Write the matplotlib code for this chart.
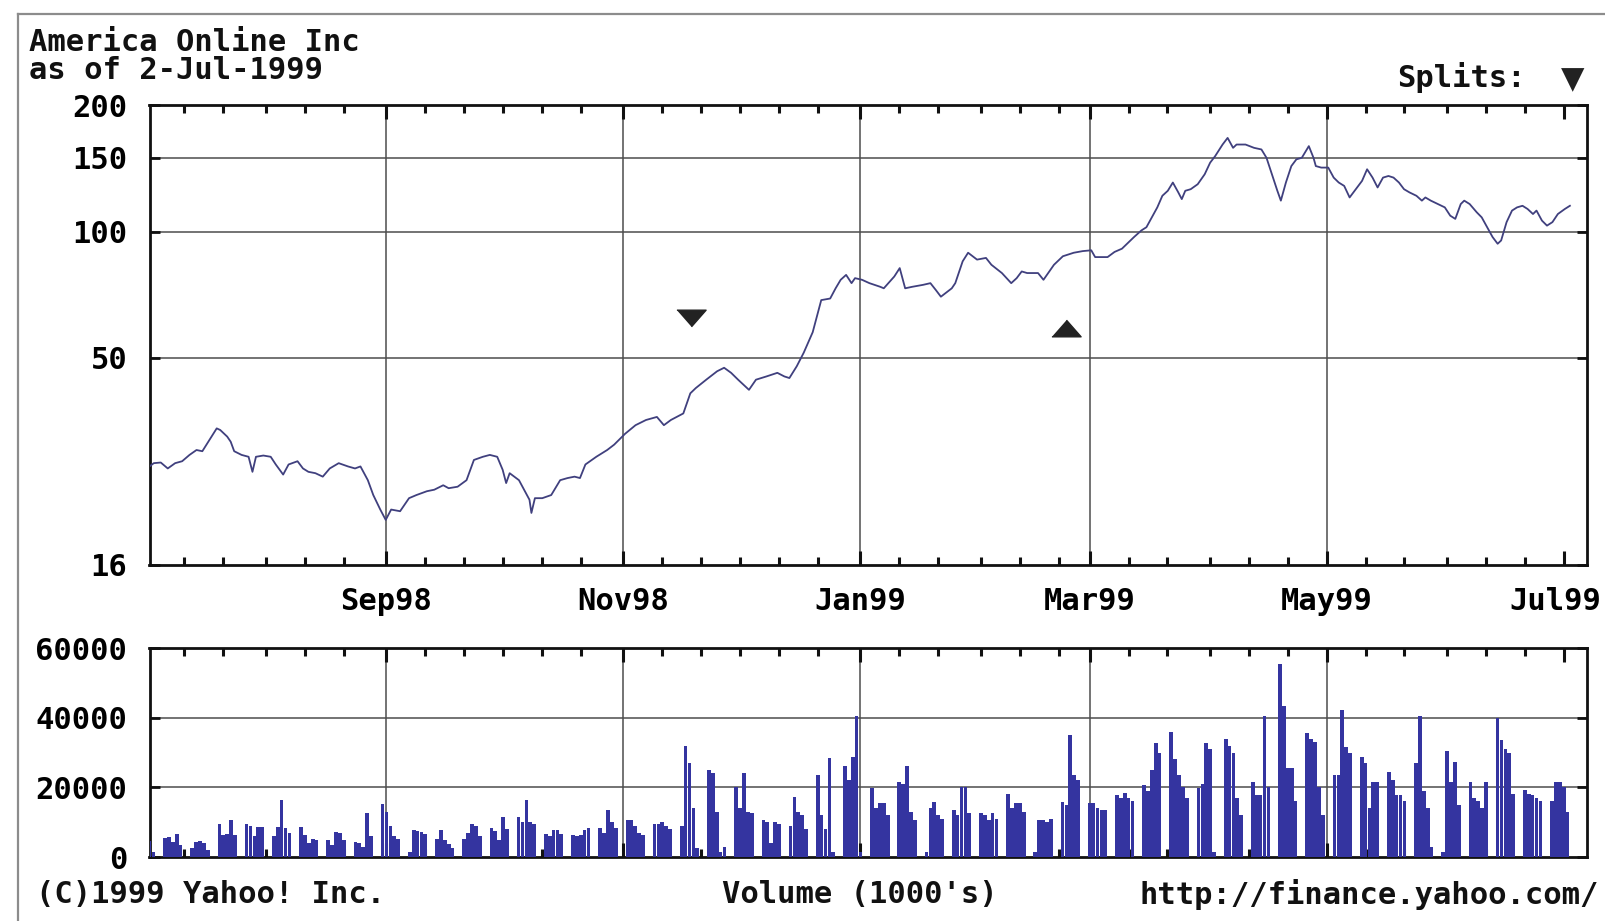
import numpy as np
import pandas as pd
import matplotlib
matplotlib.use("Agg")
import matplotlib.pyplot as plt
import matplotlib.dates as mdates
import matplotlib.ticker as mticker
import matplotlib.transforms as mtransforms
from matplotlib.lines import Line2D

plt.rcParams['font.family'] = ['DejaVu Sans Mono', 'DejaVu Sans']
plt.rcParams['font.weight'] = 'bold'

# ---------------- data ----------------
start_date = "1998-07-02"
end_date = "1999-07-02"

# price trace: day offset from start_date, closing price (split adjusted)
price_day = [0, 1.1, 2.9, 4.7, 6.6, 8.4, 10.3, 12.1, 13.6, 15.4, 17.3, 18.2, 20.0, 20.9, 21.8,
             23.7, 25.5, 26.5, 27.4, 29.3, 31.2, 32.5, 34.4, 35.8, 38.1, 39.5, 40.9, 42.7, 44.6,
             46.4, 48.7, 51.1, 52.9, 54.3, 56.2, 57.6, 59.4, 60.8, 62.2, 64.5, 66.8, 68.7, 71.4,
             73.3, 75.6, 77.0, 79.3, 81.6, 83.5, 85.8, 87.6, 89.5, 90.9, 91.8, 92.7, 95.1, 96.4,
             97.8, 98.3, 99.2, 101.1, 103.4, 105.7, 107.6, 109.4, 110.8, 112.2, 115.0, 117.8,
             119.6, 122.4, 125.1, 127.8, 130.6, 132.4, 134.2, 137.4, 139.2, 140.6, 143.3, 146.1,
             147.9, 149.7, 151.5, 154.3, 156.1, 158.8, 161.6, 163.4, 164.7, 166.6, 168.4, 170.7,
             172.9, 175.2, 176.6, 177.9, 179.3, 180.7, 181.6, 183.4, 185.3, 188.1, 189.0, 191.7,
             193.1, 194.5, 196.3, 199.1, 201.0, 202.4, 203.7, 206.5, 207.4, 209.3, 210.7, 213.0,
             215.3, 216.7, 219.4, 221.8, 223.2, 224.5, 225.9, 228.7, 230.1, 232.8, 235.1, 237.9,
             240.2, 242.4, 243.4, 245.3, 246.6, 248.4, 250.3, 251.6, 253.4, 255.3, 256.6, 258.0,
             259.4, 260.7, 262.1, 263.4, 264.8, 265.7, 266.6, 268.0, 269.8, 271.6, 273.0, 274.3,
             276.2, 277.5, 278.9, 279.8, 282.1, 284.3, 286.2, 287.5, 288.9, 290.3, 291.2, 292.5,
             293.9, 295.2, 296.6, 298.4, 299.6, 300.2, 301.6, 303.4, 304.8, 306.1, 307.5, 308.9,
             310.2, 312.1, 313.4, 314.8, 316.1, 317.5, 318.9, 320.2, 321.6, 322.9, 324.3, 326.1,
             327.5, 328.4, 329.8, 331.6, 333.4, 334.8, 336.1, 337.5, 338.4, 339.8, 341.6, 342.9,
             344.3, 345.7, 347.0, 347.9, 349.3, 350.7, 352.0, 353.4, 354.7, 356.1, 357.0, 358.4,
             359.7, 361.1, 362.5, 364.3, 365.6]
price_val = [27.5, 28.0, 28.1, 27.2, 28.0, 28.3, 29.3, 30.1, 29.9, 31.8, 33.9, 33.6, 32.4, 31.5, 29.9,
             29.3, 29.0, 26.7, 29.0, 29.2, 29.0, 27.8, 26.3, 27.8, 28.3, 27.2, 26.7, 26.5, 26.0,
             27.2, 28.0, 27.5, 27.2, 27.5, 25.5, 23.5, 21.7, 20.5, 21.7, 21.5, 23.1, 23.5, 24.0,
             24.2, 24.8, 24.4, 24.6, 25.5, 28.5, 29.0, 29.3, 29.0, 27.0, 25.1, 26.5, 25.5, 24.2,
             22.9, 21.3, 23.1, 23.1, 23.5, 25.5, 25.8, 26.0, 25.8, 27.8, 29.0, 30.1,
             31.0, 32.9, 34.5, 35.5, 36.1, 34.5, 35.5, 36.8, 41.1, 42.3, 44.3, 46.4,
             47.3, 46.0, 44.3, 41.9, 44.3, 45.1, 46.0, 45.1, 44.7, 47.7, 51.4, 57.5,
             68.6, 69.2, 73.2, 76.7, 78.8, 75.3, 77.4, 76.7, 75.3, 73.8, 73.2, 78.1,
             81.8, 73.2, 73.8, 74.6, 75.3, 72.5, 69.9, 73.2, 75.3, 84.9, 89.0, 85.7,
             86.5, 83.3, 79.6, 75.3, 77.4, 80.3, 79.6, 79.6, 76.7, 83.3, 87.3, 89.0,
             89.8, 90.2, 86.9, 86.9, 86.9, 89.4, 91.0, 93.5, 97.0, 100.6, 102.4, 108.1,
             114.2, 121.7, 125.1, 130.9, 124.0, 119.5, 125.1, 126.2, 129.7, 137.0, 146.0, 151.4,
             161.3, 167.3, 158.4, 161.3, 161.3, 158.4, 157.0, 150.0, 137.0, 125.1, 118.5, 130.9,
             143.3, 148.7, 150.0, 159.9, 150.0, 143.3, 142.1, 142.1, 134.5, 130.9, 128.5, 120.6,
             125.1, 132.1, 140.8, 134.5, 127.4, 134.5, 135.7, 134.5, 130.9, 126.2, 124.0, 121.7,
             118.5, 120.6, 118.5, 116.3, 114.2, 109.1, 107.2, 116.3, 118.5, 116.3, 111.2, 108.1,
             102.4, 97.0, 93.5, 95.2, 105.3, 112.2, 114.2, 115.2, 113.2, 110.1, 112.2, 106.2,
             103.3, 105.3, 110.1, 113.2, 115.2]

# daily volume (1000's of shares), one value per weekday from start_date to end_date
volume = [4500, 1500,
          5500, 5800, 4300, 6700, 3400,
          2500, 4300, 4500, 4000, 2000,
          9600, 6200, 6500, 10500, 6200,
          9600, 9000, 6000, 8700, 8500,
          6000, 8700, 16300, 8200, 7000,
          8700, 6200, 4000, 5300, 5000,
          4800, 3500, 7200, 7000, 5000,
          4300, 4000, 3000, 12500, 6000,
          15300, 13000, 9000, 6000, 5300,
          1500, 7700, 7500, 7200, 6500,
          5300, 7700, 5000, 3800, 2500,
          5300, 7000, 9600, 9000, 6000,
          8200, 7500, 5000, 11500, 8000,
          11500, 10000, 16300, 10000, 9500,
          6700, 6000, 7700, 7700, 6500,
          6200, 6000, 6200, 7700, 8200,
          8200, 7000, 13400, 10000, 8200,
          10500, 10500, 9000, 7000, 6200,
          9600, 9600, 10000, 9000, 8000,
          9000, 32000, 27000, 14000, 2500,
          25000, 24000, 13000, 1500, 3000,
          20000, 14000, 24000, 13000, 12500,
          10500, 10000, 4000, 10000, 9600,
          9000, 17300, 13000, 12000, 8000,
          23500, 12000, 8000, 28300, 1500,
          26000, 22000, 28800, 40400, 1500,
          19700, 14000, 15400, 15400, 12000,
          21600, 21000, 26000, 13000, 10500,
          1500, 14000, 15900, 12000, 11000,
          13400, 12000, 20000, 20000, 12500,
          12500, 12000, 10500, 12500, 11000,
          18200, 14000, 15400, 15400, 13000,
          1500, 10500, 10500, 10000, 11000,
          15900, 15000, 35000, 23500, 22000,
          15400, 15400, 14000, 13400, 13400,
          17800, 17000, 18500, 17000, 16000,
          20600, 19000, 25000, 32700, 30000,
          36000, 28000, 23500, 20000, 17000,
          19700, 21000, 32700, 31000, 1500,
          34000, 32000, 30000, 17000, 12000,
          21600, 17800, 17800, 40400, 20000,
          55300, 43300, 25500, 25500, 16000,
          35600, 34000, 33000, 20000, 12000,
          23500, 23500, 42300, 31700, 30000,
          28800, 27000, 14000, 21600, 21600,
          24500, 22000, 17800, 17800, 16000,
          26900, 40400, 19000, 14000, 3000,
          1500, 30300, 21600, 27400, 15000,
          21600, 17000, 16000, 14000, 21600,
          39900, 33600, 31000, 30000, 18000,
          19200, 18000, 17800, 17000, 16000,
          16000, 21600, 21600, 20000, 13000]

# split markers
split_day = [139.5, 236.0]
split_val = [62.1, 58.7]
split_dir = ["down", "up"]

price_ticks = [16, 50, 100, 150, 200]
price_tick_labels = ["16", "50", "100", "150", "200"]
price_grid = [50, 100, 150]
volume_ticks = [0, 20000, 40000, 60000]
volume_tick_labels = ["0", "20000", "40000", "60000"]
volume_grid = [20000, 40000]
month_dates = ["1998-09-01", "1998-11-01", "1999-01-01", "1999-03-01", "1999-05-01", "1999-07-01"]
month_labels = ["Sep98", "Nov98", "Jan99", "Mar99", "May99", "Jul99"]
grid_months = month_dates[:-1]

title_lines = ["America Online Inc", "as of 2-Jul-1999"]

# ---------------- drawing ----------------
W, H = 1605, 921
fig = plt.figure(figsize=(W / 100, H / 100), dpi=100)
fig.patch.set_facecolor("white")

x0, x1 = 149.5, 1587.0
ax = fig.add_axes([x0 / W, 1 - 565 / H, (x1 - x0) / W, (565 - 105.4) / H])
axv = fig.add_axes([x0 / W, 1 - 857 / H, (x1 - x0) / W, (857 - 648) / H])

start = pd.Timestamp(start_date)
xlim = (start, pd.Timestamp("1999-07-07"))

GRID_C = "#4d4d4d"
LINE_C = "#40407e"
BAR_C = "#3434a0"
FS = 22

price_dates = start + pd.to_timedelta(price_day, unit="D")
ax.plot(price_dates, price_val, color=LINE_C, lw=1.3, zorder=3)

for d, v, k in zip(split_day, split_val, split_dir):
    if k == "down":
        verts = [(-1, 0.57), (1, 0.57), (0, -0.57)]
    else:
        verts = [(-1, -0.57), (1, -0.57), (0, 0.57)]
    ax.plot([start + pd.Timedelta(days=d)], [v], marker=verts, ms=21,
            color="#222222", ls="none", zorder=4)

trade_dates = pd.bdate_range(start_date, end_date)
axv.bar(trade_dates, volume, width=0.95, color=BAR_C, zorder=3, align="center")

for a in (ax, axv):
    a.set_xlim(*xlim)
    for d in grid_months:
        a.axvline(pd.Timestamp(d), color=GRID_C, lw=1.1, zorder=1)
    a.set_xticks([pd.Timestamp(d) for d in month_dates])
    a.xaxis.set_minor_locator(mdates.DayLocator(bymonthday=[1, 11, 21]))
    a.tick_params(axis="x", which="both", direction="in", top=True, bottom=True,
                  width=2.2, color="#111111")
    a.tick_params(axis="x", which="major", length=10)
    a.tick_params(axis="x", which="minor", length=6)
    a.tick_params(axis="y", which="both", direction="in", left=True, right=True,
                  length=7, width=2.0, pad=16, labelsize=FS, color="#111111")
    for s in a.spines.values():
        s.set_linewidth(2.0)
        s.set_color("#111111")

ax.set_xticklabels(month_labels, fontsize=FS, fontweight="bold")
ax.tick_params(axis="x", which="major", pad=16)
axv.set_xticklabels([])

# keep the last month label inside the page
last_lbl = ax.get_xticklabels()[-1]
last_lbl.set_transform(last_lbl.get_transform() +
                       mtransforms.ScaledTranslation(-8 / 100, 0, fig.dpi_scale_trans))

ax.set_yscale("log")
ax.set_ylim(16, 200)
ax.yaxis.set_major_locator(mticker.FixedLocator(price_ticks))
ax.yaxis.set_major_formatter(mticker.FixedFormatter(price_tick_labels))
ax.yaxis.set_minor_locator(mticker.NullLocator())
for v in price_grid:
    ax.axhline(v, color=GRID_C, lw=1.1, zorder=1)

axv.set_ylim(0, 60000)
axv.yaxis.set_major_locator(mticker.FixedLocator(volume_ticks))
axv.yaxis.set_major_formatter(mticker.FixedFormatter(volume_tick_labels))
for v in volume_grid:
    axv.axhline(v, color=GRID_C, lw=1.1, zorder=1)

# texts
fig.text(29 / W, 1 - 51 / H, title_lines[0], fontsize=FS, fontweight="bold",
         ha="left", va="baseline", color="#111111")
fig.text(29 / W, 1 - 79 / H, title_lines[1], fontsize=FS, fontweight="bold",
         ha="left", va="baseline", color="#111111")
fig.text(1397 / W, 1 - 87 / H, "Splits:", fontsize=FS, fontweight="bold",
         ha="left", va="baseline", color="#111111")
fig.text(1573 / W, 1 - 80 / H, "\u25bc", fontsize=22, ha="center", va="center",
         color="#222222", family=["DejaVu Sans"])
fig.text(36 / W, 1 - 894 / H, "(C)1999 Yahoo! Inc.", fontsize=FS, fontweight="bold",
         ha="left", va="center", color="#111111")
fig.text(722 / W, 1 - 894 / H, "Volume (1000's)", fontsize=FS, fontweight="bold",
         ha="left", va="center", color="#111111")
fig.text(1139 / W, 1 - 894 / H, "http://finance.yahoo.com/", fontsize=FS, fontweight="bold",
         ha="left", va="center", color="#111111")

# outer frame (top and left edges of the page border)
fig.add_artist(Line2D([18.4 / W, 1.0], [1 - 14.3 / H, 1 - 14.3 / H],
                      transform=fig.transFigure, color="#8c8c8c", lw=1.6))
fig.add_artist(Line2D([18.4 / W, 18.4 / W], [0.0, 1 - 14.3 / H],
                      transform=fig.transFigure, color="#8c8c8c", lw=1.6))

fig.savefig("out.png", dpi=100, facecolor="white")
